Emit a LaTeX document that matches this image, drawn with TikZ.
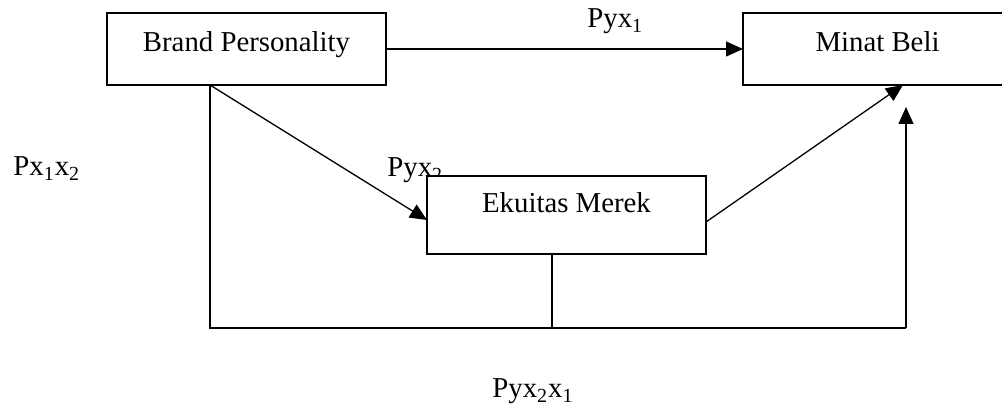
\documentclass[tikz,border=0pt]{standalone}
\usepackage{fontspec}
\setmainfont{Liberation Serif}
\usetikzlibrary{arrows.meta,calc}
\begin{document}
\begin{tikzpicture}[x=0.5pt,y=-0.5pt,
  font=\fontsize{14.4}{17}\selectfont,
  box/.style={draw,line width=1pt,fill=white,anchor=north west,inner sep=0pt,outer sep=0pt},
  line/.style={line width=0.65pt},
  arr/.style={line, -{Triangle[length=8.5pt,width=7.5pt]}},
  txt/.style={inner sep=0pt,anchor=base},
  lab/.style={inner sep=0pt,anchor=base west}]
\useasboundingbox (0,0) rectangle (1002,406);

% path labels (Pyx2 sits behind the Ekuitas box)
\node[lab] (l1)  at (587,28)  {Pyx\textsubscript{1}};
\node[lab] (l2)  at (387,177) {Pyx\textsubscript{2}};
\node[lab] (l3)  at (13,176)  {Px\textsubscript{1}x\textsubscript{2}};
\node[lab] (l4)  at (492,398) {Pyx\textsubscript{2}x\textsubscript{1}};

% variable boxes
\node[box,minimum width=139.5pt,minimum height=36pt] (bp) at (107,13) {};
\node[box,minimum width=134.5pt,minimum height=36pt] (mb) at (743,13) {};
\node[box,minimum width=139.5pt,minimum height=39pt] (ek) at (427,176) {};
\node[txt] (tbp) at (246.5,52)  {Brand Personality};
\node[txt] (tmb) at (877.5,52)  {Minat Beli};
\node[txt] (tek) at (566.5,213) {Ekuitas Merek};

% connector end points on the boxes
\coordinate (bpfoot) at ($(bp.south west)+(103,0)$);
\coordinate (ekin)   at ($(ek.south west)+(0,-34)$);
\coordinate (ekout)  at ($(ek.east)+(0,7)$);
\coordinate (mbin)   at ($(mb.south west)+(160,0)$);
\coordinate (mbup)   at ($(mb.south west)+(163,22)$);
\coordinate (ekfoot) at ($(ek.south)+(-14.5,0)$);
\coordinate (bend)   at ($(mbup)+(0,221)$);

% connectors
\draw[arr] (bp.east) -- (mb.west);
\draw[arr] (bpfoot) -- (ekin);
\draw[arr] (ekout) -- (mbin);
\draw[line] (bpfoot) |- (bend);
\draw[arr] (bend) -- (mbup);
\draw[line] (ekfoot) -- (ekfoot |- bend);
\end{tikzpicture}
\end{document}
